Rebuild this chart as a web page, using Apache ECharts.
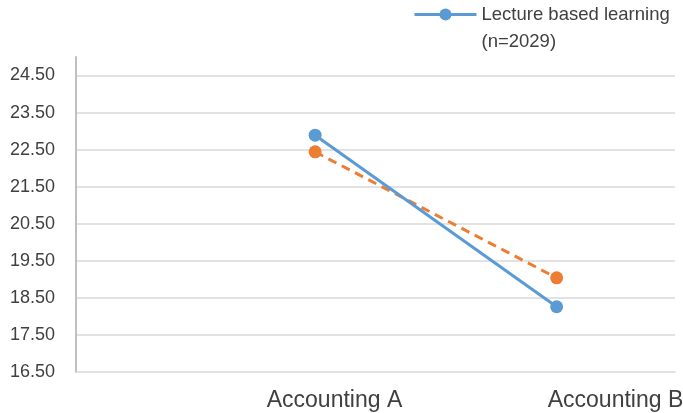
<!DOCTYPE html>
<html>
<head>
<meta charset="utf-8">
<script src="https://cdn.jsdelivr.net/npm/echarts@6/dist/echarts.min.js"></script>
<style>
  html, body { margin: 0; padding: 0; background: #ffffff; }
  #chart { width: 683px; height: 413px; }
</style>
</head>
<body>
<div id="chart"></div>
<script>
// Course categories and mean scores per teaching group
const categories = ['Accounting A', 'Accounting B'];
const lectureScores = [22.89, 18.26];
const comparisonScores = [22.44, 19.04];
const lectureName = 'Lecture based learning\n(n=2029)';
const comparisonName = 'Comparison group';

// Each course sits in its own slot; slot 0 is left empty
const toPoints = vals => vals.map((v, i) => [i + 1, v]);

const textColor = '#404040';
const fontFamily = 'Liberation Sans, Arial, sans-serif';

const chart = echarts.init(document.getElementById('chart'), null, { renderer: 'canvas' });
chart.setOption({
  animation: false,
  backgroundColor: '#ffffff',
  textStyle: { fontFamily: fontFamily, color: textColor },
  legend: {
    data: [lectureName],
    left: 413,
    top: -26,
    padding: 0,
    itemWidth: 62,
    itemHeight: 15,
    itemGap: 6,
    // a blank leading line keeps the icon level with the first text line
    formatter: name => ' \n' + name,
    lineStyle: { width: 3 },
    textStyle: { fontSize: 18.5, color: textColor, lineHeight: 27 }
  },
  grid: [
    { left: 76, right: 8, top: 57, bottom: 41, outerBoundsMode: 'none' },
    // wider band used only to place the course names
    { left: 194, width: 562, top: 57, bottom: 41, outerBoundsMode: 'none' }
  ],
  xAxis: [
    {
      type: 'value', gridIndex: 0, min: 0.01, max: 2.49,
      axisLine: { show: true, lineStyle: { color: '#D9D9D9', width: 1.5 } },
      axisTick: { show: false }, axisLabel: { show: false }, splitLine: { show: false }
    },
    {
      type: 'category', gridIndex: 1, data: categories,
      axisLine: { show: false }, axisTick: { show: false }, splitLine: { show: false },
      axisLabel: { fontSize: 23, color: textColor, margin: 17 }
    }
  ],
  yAxis: [
    {
      type: 'value', gridIndex: 0, min: 16.5, max: 25, interval: 1,
      axisLine: { show: true, lineStyle: { color: '#BFBFBF', width: 2 } },
      axisTick: { show: false },
      axisLabel: {
        fontSize: 18, color: textColor, margin: 21, showMaxLabel: false,
        formatter: v => v.toFixed(2)
      },
      splitLine: {
        show: true, showMinLine: false, showMaxLine: false,
        lineStyle: { color: '#D9D9D9', width: 1.5 }
      }
    },
    { type: 'value', gridIndex: 1, show: false }
  ],
  series: [
    {
      name: lectureName, type: 'line', xAxisIndex: 0, yAxisIndex: 0,
      data: toPoints(lectureScores),
      symbol: 'circle', symbolSize: 13,
      lineStyle: { color: '#5B9BD5', width: 3 },
      itemStyle: { color: '#5B9BD5' },
      z: 3
    },
    {
      name: comparisonName, type: 'line', xAxisIndex: 0, yAxisIndex: 0,
      data: toPoints(comparisonScores),
      symbol: 'circle', symbolSize: 13,
      lineStyle: { color: '#ED7D31', width: 3, type: [9, 6] },
      itemStyle: { color: '#ED7D31' },
      z: 2
    }
  ]
});
</script>
</body>
</html>
